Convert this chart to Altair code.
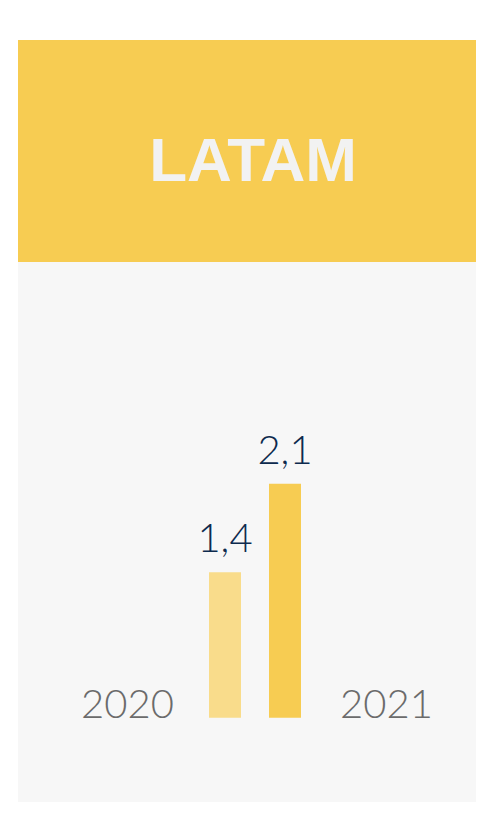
import altair as alt
import pandas as pd

# ---- data ----
years = ["2020", "2021"]
values = [1.4, 2.1]
value_labels = ["1,4", "2,1"]
bar_colors = ["#f9dc8b", "#f7cc52"]
title_text = ["LATAM"]

df = pd.DataFrame({"year": years, "value": values, "label": value_labels})
df_title = pd.DataFrame({"t": title_text})

Y_MIN = 0.25
y_scale = alt.Scale(domain=[Y_MIN, 2.1], range=[462, 209])

PANEL_W = 458

# ---- header ----
header = (
    alt.Chart(df_title)
    .mark_text(font="Liberation Sans", fontSize=62, fontWeight="bold",
               color="#f2f2f2", baseline="alphabetic", align="center")
    .encode(text="t:N", x=alt.value(235), y=alt.value(141))
    .properties(width=PANEL_W, height=222,
                view=alt.ViewBackground(fill="#f7cc52", stroke=None))
)

# ---- bars ----
bar_x = alt.X("year:N", scale=alt.Scale(type="point", domain=years,
                                         range=[207, 267], padding=0), axis=None)

bars = alt.Chart(df).mark_bar(size=32).encode(
    x=bar_x,
    y=alt.Y("value:Q", scale=y_scale, axis=None),
    y2=alt.datum(Y_MIN),
    color=alt.Color("year:N", scale=alt.Scale(domain=years, range=bar_colors), legend=None),
)

vals = alt.Chart(df).mark_text(font="Lato", fontSize=40, fontWeight=300,
                               color="#0d2a4e", baseline="alphabetic", dy=-20).encode(
    x=bar_x,
    y=alt.Y("value:Q", scale=y_scale, axis=None),
    text="label:N",
)

year_labels = alt.Chart(df).mark_text(font="Lato", fontSize=40, fontWeight=300,
                                      color="#6b6b6b", baseline="alphabetic").encode(
    x=alt.X("year:N", scale=alt.Scale(type="point", domain=years,
                                      range=[109.5, 368.5], padding=0), axis=None),
    y=alt.datum(Y_MIN),
    text="year:N",
)

body = (
    alt.layer(bars, vals, year_labels)
    .resolve_scale(x="independent")
    .properties(width=PANEL_W, height=540,
                view=alt.ViewBackground(fill="#f7f7f7", stroke=None))
)

chart = (
    alt.vconcat(header, body, spacing=0)
    .properties(padding={"left": 10, "top": 32, "right": 0, "bottom": 0},
                background="white")
    .configure_view(stroke=None)
)

chart.save("out.html", embed_options={"renderer": "svg", "actions": False})
